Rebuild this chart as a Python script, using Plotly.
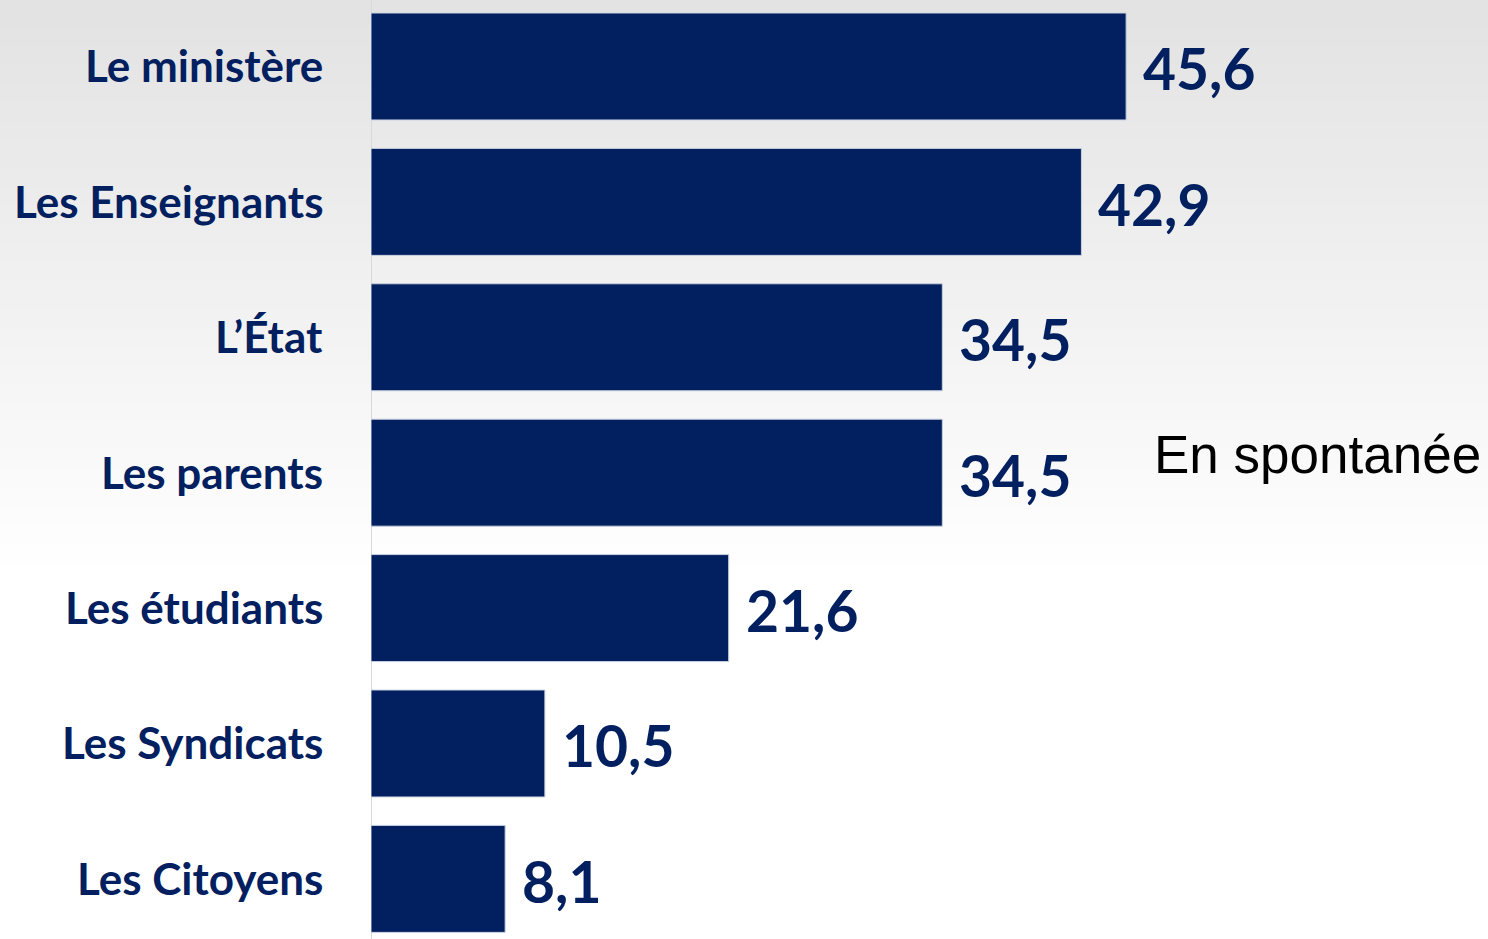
import plotly.graph_objects as go

categories = ["Le ministère", "Les Enseignants", "L’État", "Les parents",
              "Les étudiants", "Les Syndicats", "Les Citoyens"]
values = [45.6, 42.9, 34.5, 34.5, 21.6, 10.5, 8.1]
value_labels = ["45,6", "42,9", "34,5", "34,5", "21,6", "10,5", "8,1"]
note_text = "En spontanée"

NAVY = "#02205f"
W, H = 1488, 939
L = 371

fig = go.Figure()
fig.add_trace(go.Bar(
    x=values, y=categories, orientation="h",
    marker=dict(color=NAVY, line=dict(color="#c8d0e0", width=1)),
    hoverinfo="skip",
))

# gradient background (gray at top fading to white)
shapes = []
n = 60
for i in range(n):
    t = i / n
    y0 = 1 - t * 0.6
    y1 = 1 - (i + 1) / n * 0.6
    g = int(0xe3 + (0xff - 0xe3) * t)
    shapes.append(dict(type="rect", xref="paper", yref="paper",
                       x0=-L / (W - L), x1=1, y0=y1, y1=y0 + 0.001,
                       fillcolor=f"rgb({g},{g},{g})", line=dict(width=0),
                       layer="below"))
# axis line
shapes.append(dict(type="line", xref="x", yref="paper", x0=0, x1=0, y0=0, y1=1,
                   line=dict(color="#d9d9d9", width=2), layer="below"))

annotations = []
for c, v, lab in zip(categories, values, value_labels):
    annotations.append(dict(x=v, y=c, xref="x", yref="y", text=lab,
                            showarrow=False, xanchor="left", xshift=15, yshift=-2,
                            font=dict(family="Lato", size=57, color=NAVY,
                                      weight="bold")))
    annotations.append(dict(x=0, y=c, xref="x", yref="y", text=c,
                            showarrow=False, xanchor="right", xshift=-46, yshift=1,
                            font=dict(family="Lato", size=44, color=NAVY,
                                      weight="bold")))
annotations.append(dict(x=1, y=3, xref="paper", yref="y", text=note_text,
                        showarrow=False, xanchor="right", xshift=-5, yshift=18,
                        font=dict(family="Liberation Sans", size=53, color="#000000")))

fig.update_layout(
    width=W, height=H,
    margin=dict(l=L, r=0, t=0, b=0),
    paper_bgcolor="white", plot_bgcolor="rgba(0,0,0,0)",
    bargap=0.21, showlegend=False,
    shapes=shapes, annotations=annotations,
    xaxis=dict(range=[0, (W - L) / 16.56], visible=False, fixedrange=True),
    yaxis=dict(type="category", categoryorder="array", categoryarray=categories,
               range=[6.444, -0.491], showticklabels=False, showgrid=False,
               zeroline=False, showline=False, fixedrange=True),
)

fig.write_html("out.html", config={"displayModeBar": False},
               post_script="document.body.style.margin='0';document.body.style.overflow='hidden';")
